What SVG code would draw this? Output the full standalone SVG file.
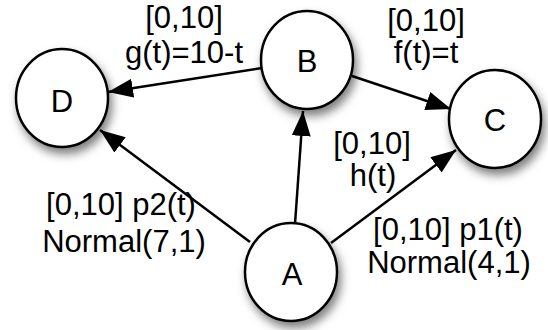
<svg xmlns="http://www.w3.org/2000/svg" width="548" height="330" viewBox="0 0 548 330">
<defs>
<filter id="sh" x="-30%" y="-30%" width="170%" height="170%">
<feDropShadow dx="3" dy="6" stdDeviation="5" flood-color="#000" flood-opacity="0.5"/>
</filter>
<marker id="ar" markerUnits="userSpaceOnUse" markerWidth="26" markerHeight="20" refX="25" refY="9.5" orient="auto">
<path d="M0,0 L25,9.5 L0,19 z" fill="#000"/>
</marker>
<style>
.n{fill:#fff;stroke:#000;stroke-width:2.5;filter:url(#sh)}
.e{stroke:#000;stroke-width:2.5;fill:none;marker-end:url(#ar)}
text{font-family:"Liberation Sans",Arial,sans-serif;font-size:31px;fill:#000;text-anchor:middle}
</style>
</defs>
<rect width="548" height="330" fill="#fff"/>
<g id="connectors">
<line class="e" x1="262" y1="68" x2="108" y2="92"/>
<line class="e" x1="352" y1="76" x2="451" y2="109"/>
<line class="e" x1="295" y1="224" x2="303" y2="111"/>
<line class="e" x1="250" y1="242" x2="100" y2="130"/>
<line class="e" x1="331" y1="243" x2="456" y2="150"/>
</g>
<g id="node-D"><ellipse class="n" cx="62" cy="98" rx="46" ry="49"/><text x="62" y="112">D</text></g>
<g id="node-B"><ellipse class="n" cx="307" cy="60" rx="46" ry="49"/><text x="307" y="72">B</text></g>
<g id="node-C"><ellipse class="n" cx="495" cy="119" rx="46" ry="49"/><text x="495" y="131">C</text></g>
<g id="node-A"><ellipse class="n" cx="291" cy="272" rx="46" ry="49"/><text x="292" y="285">A</text></g>
<g id="labels">
<text x="184" y="28">[0,10]</text>
<text x="184" y="63">g(t)=10-t</text>
<text x="426" y="31">[0,10]</text>
<text x="426" y="63">f(t)=t</text>
<text x="372" y="154">[0,10]</text>
<text x="373" y="186">h(t)</text>
<text x="121" y="215">[0,10] p2(t)</text>
<text x="124" y="252">Normal(7,1)</text>
<text x="448" y="240">[0,10] p1(t)</text>
<text x="449" y="273">Normal(4,1)</text>
</g>
</svg>
